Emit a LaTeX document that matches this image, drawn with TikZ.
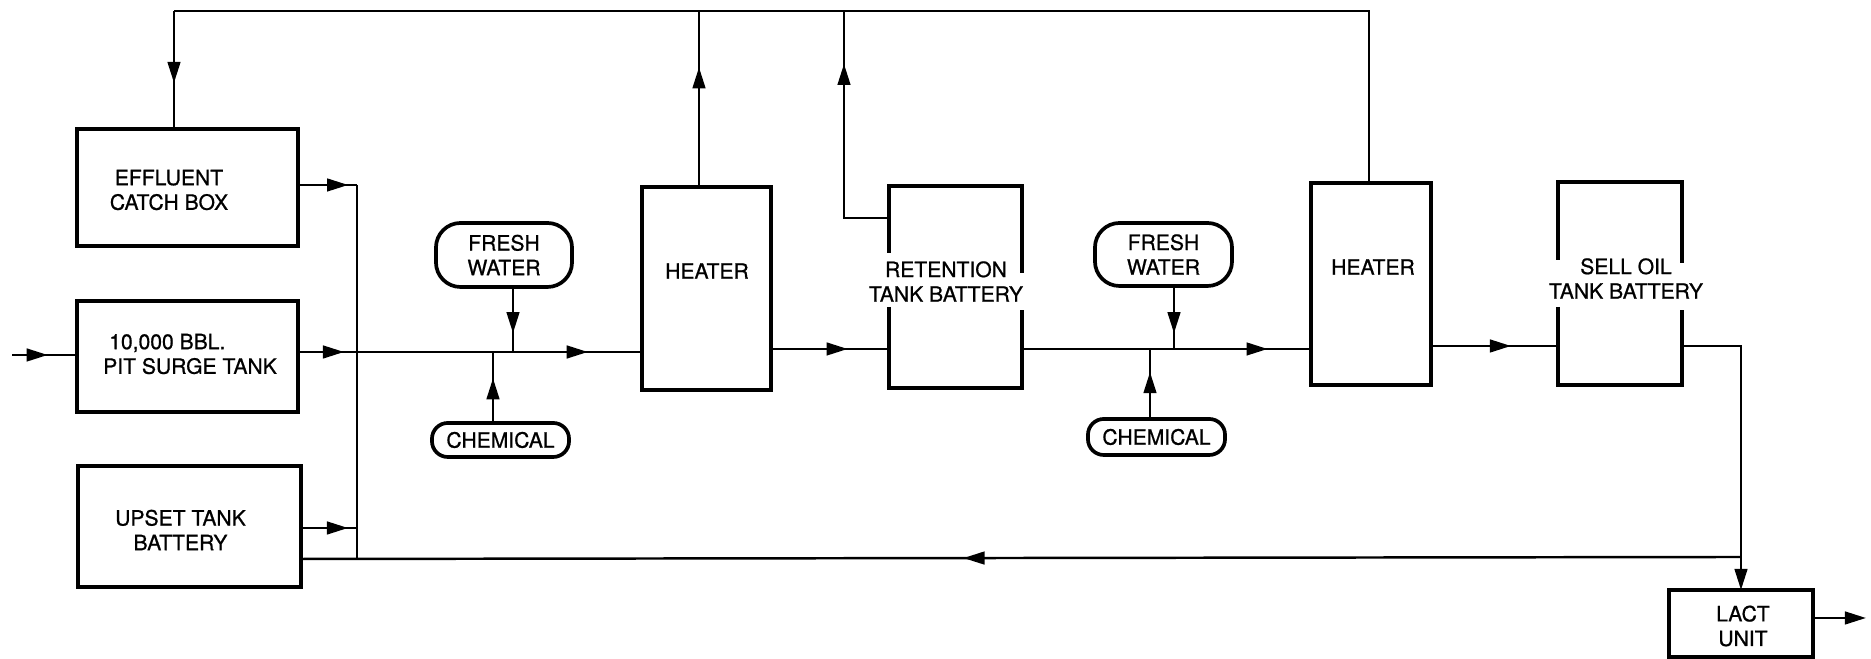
\documentclass[tikz,border=0pt]{standalone}
\usepackage{fontspec}
\setmainfont{TeX Gyre Heros}[FakeBold=0.8]
\usetikzlibrary{arrows.meta,decorations.markings}
\begin{document}
\begin{tikzpicture}[x=0.01cm,y=-0.01cm,
  box/.style={draw,line width=1.05pt,inner sep=0pt,outer sep=0pt},
  frame/.style={line width=1.05pt},
  lbl/.style={font=\fontsize{6}{7}\selectfont,align=center,inner sep=0pt},
  pill/.style={draw,line width=1.05pt,inner sep=0pt,outer sep=0pt,font=\fontsize{6}{7}\selectfont,align=center},
  flow/.style={line width=0.7pt},
  arrowat/.style={flow,postaction={decorate},decoration={markings,mark=at position #1 with {\arrow{Triangle[length=6pt,width=3.6pt]}}}},
  tip/.style={flow,-{Triangle[length=6pt,width=3.6pt]}},
]
\useasboundingbox (0,0) rectangle (1871,659);

% boxes
\node[box,minimum width=2.21cm,minimum height=1.17cm] (eff) at (187.5,187.5) {};
\node[box,minimum width=2.21cm,minimum height=1.11cm] (pit) at (187.5,356.5) {};
\node[box,minimum width=2.23cm,minimum height=1.21cm] (ups) at (189.5,526.5) {};
\node[box,minimum width=1.29cm,minimum height=2.03cm] (heat1) at (706.5,288.5) {};
\node[inner sep=0pt,outer sep=0pt,minimum width=1.33cm,minimum height=2.02cm] (ret) at (955.5,287) {};
\node[box,minimum width=1.20cm,minimum height=2.02cm] (heat2) at (1371,284) {};
\node[inner sep=0pt,outer sep=0pt,minimum width=1.24cm,minimum height=2.03cm] (sell) at (1620,283.5) {};
\node[box,minimum width=1.44cm,minimum height=0.67cm] (lact) at (1741,623.5) {};

% broken outlines
\draw[frame] (889,253) |- (1022,186) -- (1022,273);
\draw[frame] (889,307) |- (1022,388) -- (1022,310);
\draw[frame] (1558,260) |- (1682,182) -- (1682,263);
\draw[frame] (1558,307) |- (1682,385) -- (1682,310);

% texts
\node[lbl] (effT) at (169,190) {EFFLUENT\\CATCH BOX};
\node[lbl,align=left] (pitT) at (190,354) {\hspace*{0.06cm}10,000 BBL.\\PIT SURGE TANK};
\node[lbl] (upsT) at (180.5,530) {UPSET TANK\\BATTERY};
\node[lbl] (heat1T) at (707,271) {HEATER};
\node[lbl] (retT) at (946,281.5) {RETENTION\\TANK BATTERY};
\node[lbl] (heat2T) at (1373,267) {HEATER};
\node[lbl] (sellT) at (1626,278.5) {SELL OIL\\TANK BATTERY};
\node[lbl] (lactT) at (1743,626) {LACT\\UNIT};

% pills
\node[pill,minimum width=1.36cm,minimum height=0.64cm,rounded corners=7pt] (fw1) at (504,255) {FRESH\\WATER};
\node[pill,minimum width=1.37cm,minimum height=0.34cm,rounded corners=4.5pt] (ch1) at (500.5,440) {CHEMICAL};
\node[pill,minimum width=1.37cm,minimum height=0.63cm,rounded corners=7pt] (fw2) at (1163.5,254.5) {FRESH\\WATER};
\node[pill,minimum width=1.37cm,minimum height=0.36cm,rounded corners=4.5pt] (ch2) at (1156.5,437) {CHEMICAL};

% coordinates
\coordinate (in) at (12,355);
\coordinate (ctop) at (357,185);
\coordinate (j1) at (357,352);
\coordinate (cup) at (357,528);
\coordinate (cbot) at (357,559);
\coordinate (m1) at (513,352);
\coordinate (m2) at (493,352);
\coordinate (y2) at (0,349);
\coordinate (m3) at (1174,349);
\coordinate (m4) at (1150,349);
\coordinate (y3) at (0,346);
\coordinate (y4) at (0,557);
\coordinate (y5) at (0,559);
\coordinate (tl) at (174,11);
\coordinate (tr) at (1369,11);
\coordinate (t1) at (699,11);
\coordinate (t2) at (844,11);
\coordinate (rr) at (844,218);
\coordinate (out) at (1866,618);

% connectors
\draw[arrowat=0.55] (in) -- (pit.west |- in);
\draw[arrowat=0.85] (eff.east |- ctop) -- (ctop);
\draw[arrowat=0.78] (pit.east |- j1) -- (j1);
\draw[arrowat=0.84] (ups.east |- cup) -- (cup);
\draw[flow] (ctop) -- (cup);
\draw[line width=0.3pt] (cup) -- (cbot);
\draw[arrowat=0.81] (j1) -- (heat1.west |- j1);
\draw[arrowat=0.71] (fw1.south -| m1) -- (m1);
\draw[arrowat=0.63] (ch1.north -| m2) -- (m2);
\draw[arrowat=0.65] (heat1.east |- y2) -- (ret.west |- y2);
\draw[arrowat=0.85] (ret.east |- y2) -- (heat2.west |- y2);
\draw[arrowat=0.75] (fw2.south -| m3) -- (m3);
\draw[arrowat=0.67] (ch2.north -| m4) -- (m4);
\draw[arrowat=0.63] (heat2.east |- y3) -- (sell.west |- y3);
\draw[tip] (sell.east |- y3) -| (lact.north);
\draw[arrowat=0.54] (lact.north |- y4) -- (ups.east |- y5);
\draw[tip] (lact.east |- out) -- (out);
\draw[flow] (heat2.north -| tr) -- (tr) -- (tl);
\draw[arrowat=0.61] (tl) -- (tl |- eff.north);
\draw[arrowat=0.68] (heat1.north -| t1) -- (t1);
\draw[arrowat=0.79] (ret.west |- rr) -- (rr) -- (t2);
\end{tikzpicture}
\end{document}
